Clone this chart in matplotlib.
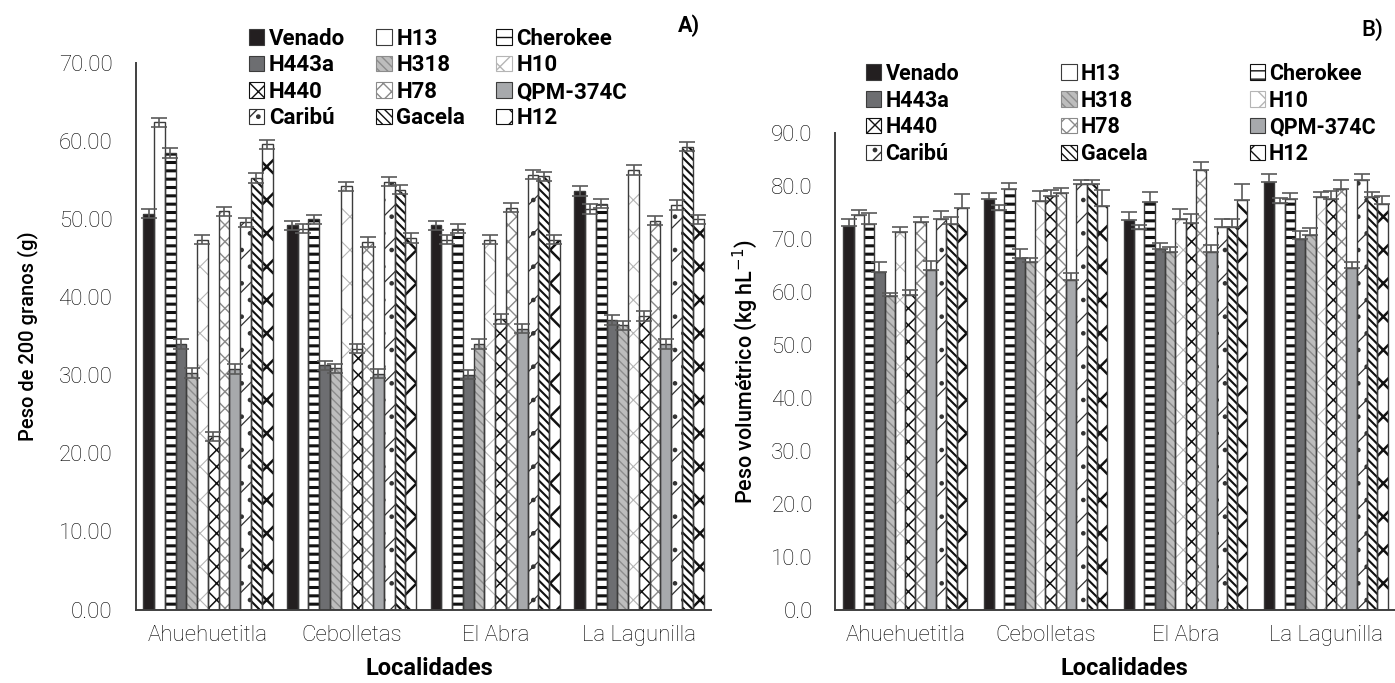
import matplotlib
matplotlib.use("Agg")
import matplotlib.pyplot as plt
from matplotlib.patches import Patch
import numpy as np

plt.rcParams.update({'font.family': ['Roboto', 'DejaVu Sans'],
                     'hatch.linewidth': 1.0})

localidades = ["Ahuehuetitla", "Cebolletas", "El Abra", "La Lagunilla"]
genotipos = ["Venado", "H13", "Cherokee", "H443a", "H318", "H10",
             "H440", "H78", "QPM-374C", "Caribú", "Gacela", "H12"]

# A) peso de 200 granos (g), one row per genotipo
peso200 = [
    [50.7, 49.2, 49.2, 53.6],
    [62.4, 48.8, 47.4, 51.3],
    [58.5, 50.0, 48.8, 52.0],
    [34.0, 31.3, 30.1, 37.1],
    [30.3, 30.9, 34.0, 36.4],
    [47.4, 54.2, 47.4, 56.3],
    [22.2, 33.4, 37.2, 37.6],
    [51.0, 47.1, 51.5, 49.8],
    [30.8, 30.2, 36.0, 34.0],
    [49.6, 54.8, 55.7, 51.8],
    [55.3, 53.8, 55.5, 59.3],
    [59.6, 47.6, 47.4, 50.0],
]
peso200_err = [0.6] * 12

# B) peso volumetrico (kg hL-1)
pvol = [
    [72.4, 77.6, 73.6, 80.7],
    [74.5, 75.4, 71.9, 76.8],
    [72.9, 79.5, 76.9, 77.6],
    [63.8, 66.4, 68.2, 70.0],
    [59.3, 65.6, 67.5, 70.8],
    [71.3, 77.2, 73.8, 77.9],
    [59.5, 78.2, 73.0, 77.6],
    [73.2, 78.6, 83.1, 79.4],
    [64.2, 62.2, 67.5, 64.5],
    [73.8, 80.3, 72.3, 81.2],
    [72.9, 80.4, 72.3, 77.9],
    [75.9, 76.2, 77.4, 76.6],
]
pvol_err = [
    [1.3, 1.0, 1.5, 1.5],
    [0.9, 1.1, 0.7, 1.0],
    [2.0, 1.0, 1.9, 1.0],
    [1.8, 1.7, 1.0, 1.5],
    [0.6, 0.8, 1.0, 1.2],
    [1.0, 1.8, 1.8, 1.0],
    [0.9, 1.0, 1.8, 1.5],
    [1.0, 1.0, 1.4, 1.8],
    [1.6, 1.3, 1.3, 1.2],
    [1.5, 0.8, 1.5, 1.0],
    [1.3, 0.8, 1.5, 0.9],
    [2.5, 3.0, 3.0, 1.5],
]

faces = ['#231f20', 'white', 'white', '#6d6e71', '#bdbdbd', 'white',
         'white', 'white', '#a7a9ac', 'white', 'white', 'white']
hatches = [None, None, '--', None, '\\\\\\\\', 'x',
           'xx', 'xx', None, '/.', '\\\\\\\\', 'x']
hatch_cols = ['#231f20', '#231f20', '#111111', '#6d6e71', '#8c8c8c', '#b5b5b5',
              '#111111', '#8a8a8a', '#a7a9ac', '#333333', '#111111', '#111111']
hatch_lws = [1, 1, 2.2, 1, 1, 0.8, 1.1, 1.0, 1, 0.9, 1.5, 1.8]
outline = '#3c3c3c'
txt = '#000000'


def hatched_bar(ax, xi, h, w, i):
    bars = ax.bar(xi, h, w, color=faces[i], edgecolor=hatch_cols[i],
                  hatch=hatches[i], linewidth=0, zorder=2)
    for p in bars:
        try:
            p.set_hatch_linewidth(hatch_lws[i])
        except AttributeError:
            pass
    return bars


def draw_panel(ax, values, errs, bar_w, upper_only, ymax, fmt, ypad, xlab_pos):
    x = np.arange(len(localidades))
    n = len(genotipos)
    for i in range(n):
        xi = x + (i - (n - 1) / 2) * bar_w
        hatched_bar(ax, xi, values[i], bar_w, i)
        ax.bar(xi, values[i], bar_w, fill=False, edgecolor=outline,
               linewidth=1.0, zorder=3)
        e = np.broadcast_to(np.asarray(errs[i], dtype=float), (len(x),))
        yerr = [np.zeros(len(x)), e] if upper_only else e
        ax.errorbar(xi, values[i], yerr=yerr, fmt='none', ecolor='#5a5a5a',
                    elinewidth=1.2, capsize=6, capthick=1.2, zorder=4)
    ax.set_xlim(-0.5, len(x) - 0.5)
    ax.set_ylim(0, ymax)
    ax.set_yticks(np.arange(0, ymax + 1, 10))
    ax.set_yticklabels([fmt % v for v in np.arange(0, ymax + 1, 10)],
                       fontsize=16, fontweight='light', color=txt)
    ax.set_xticks(x)
    ax.set_xticklabels(localidades, fontsize=16, fontweight='light', color=txt)
    ax.tick_params(axis='y', length=0, pad=ypad)
    ax.tick_params(axis='x', length=0, pad=11)
    for s in ['top', 'right']:
        ax.spines[s].set_visible(False)
    for s in ['left', 'bottom']:
        ax.spines[s].set_color('#404040')
        ax.spines[s].set_linewidth(1.4)
    ax.set_xlabel("Localidades", fontsize=17, fontweight='bold')
    ax.xaxis.set_label_coords(*xlab_pos)


def legend_handles():
    hs = [Patch(facecolor=faces[i], edgecolor=hatch_cols[i] if hatches[i] else outline,
                hatch=hatches[i], linewidth=0.8) for i in range(len(genotipos))]
    order = [0, 3, 6, 9, 1, 4, 7, 10, 2, 5, 8, 11]
    return [hs[k] for k in order], [genotipos[k] for k in order]


fig = plt.figure(figsize=(13.95, 6.83), dpi=100)
axA = fig.add_axes([0.0975, 0.1076, 0.412, 0.800])
axB = fig.add_axes([0.5986, 0.1069, 0.4021, 0.6984])

draw_panel(axA, peso200, peso200_err, 0.075, False, 70, '%.2f', 17, (0.51, -0.087))
draw_panel(axB, pvol, pvol_err, 0.0734, True, 90, '%.1f', 16, (0.515, -0.0985))

axA.set_ylabel("Peso de 200 granos (g)", fontsize=14.5, fontweight='medium', labelpad=15)
axB.set_ylabel("Peso volumétrico (kg hL$^{-1}$)", fontsize=15.5, fontweight='medium', labelpad=8)

h, l = legend_handles()
fig.legend(h, l, loc='upper left', bbox_to_anchor=(0.172, 0.972), ncol=3,
           frameon=False, prop={'size': 16, 'weight': 'bold'},
           handlelength=0.7, handleheight=0.7, handletextpad=0.2,
           columnspacing=1.4, labelspacing=0.2, borderaxespad=0)
fig.legend(h, l, loc='upper left', bbox_to_anchor=(0.6147, 0.921), ncol=3,
           frameon=False, prop={'size': 15.5, 'weight': 'bold'},
           handlelength=0.7, handleheight=0.7, handletextpad=0.2,
           columnspacing=4.75, labelspacing=0.23, borderaxespad=0)

fig.text(0.486, 0.962, "A)", fontsize=15.5, fontweight='bold', ha='left', va='center')
fig.text(0.976, 0.957, "B)", fontsize=16, fontweight='medium', ha='left', va='center')

fig.savefig("out.png", dpi=100)
